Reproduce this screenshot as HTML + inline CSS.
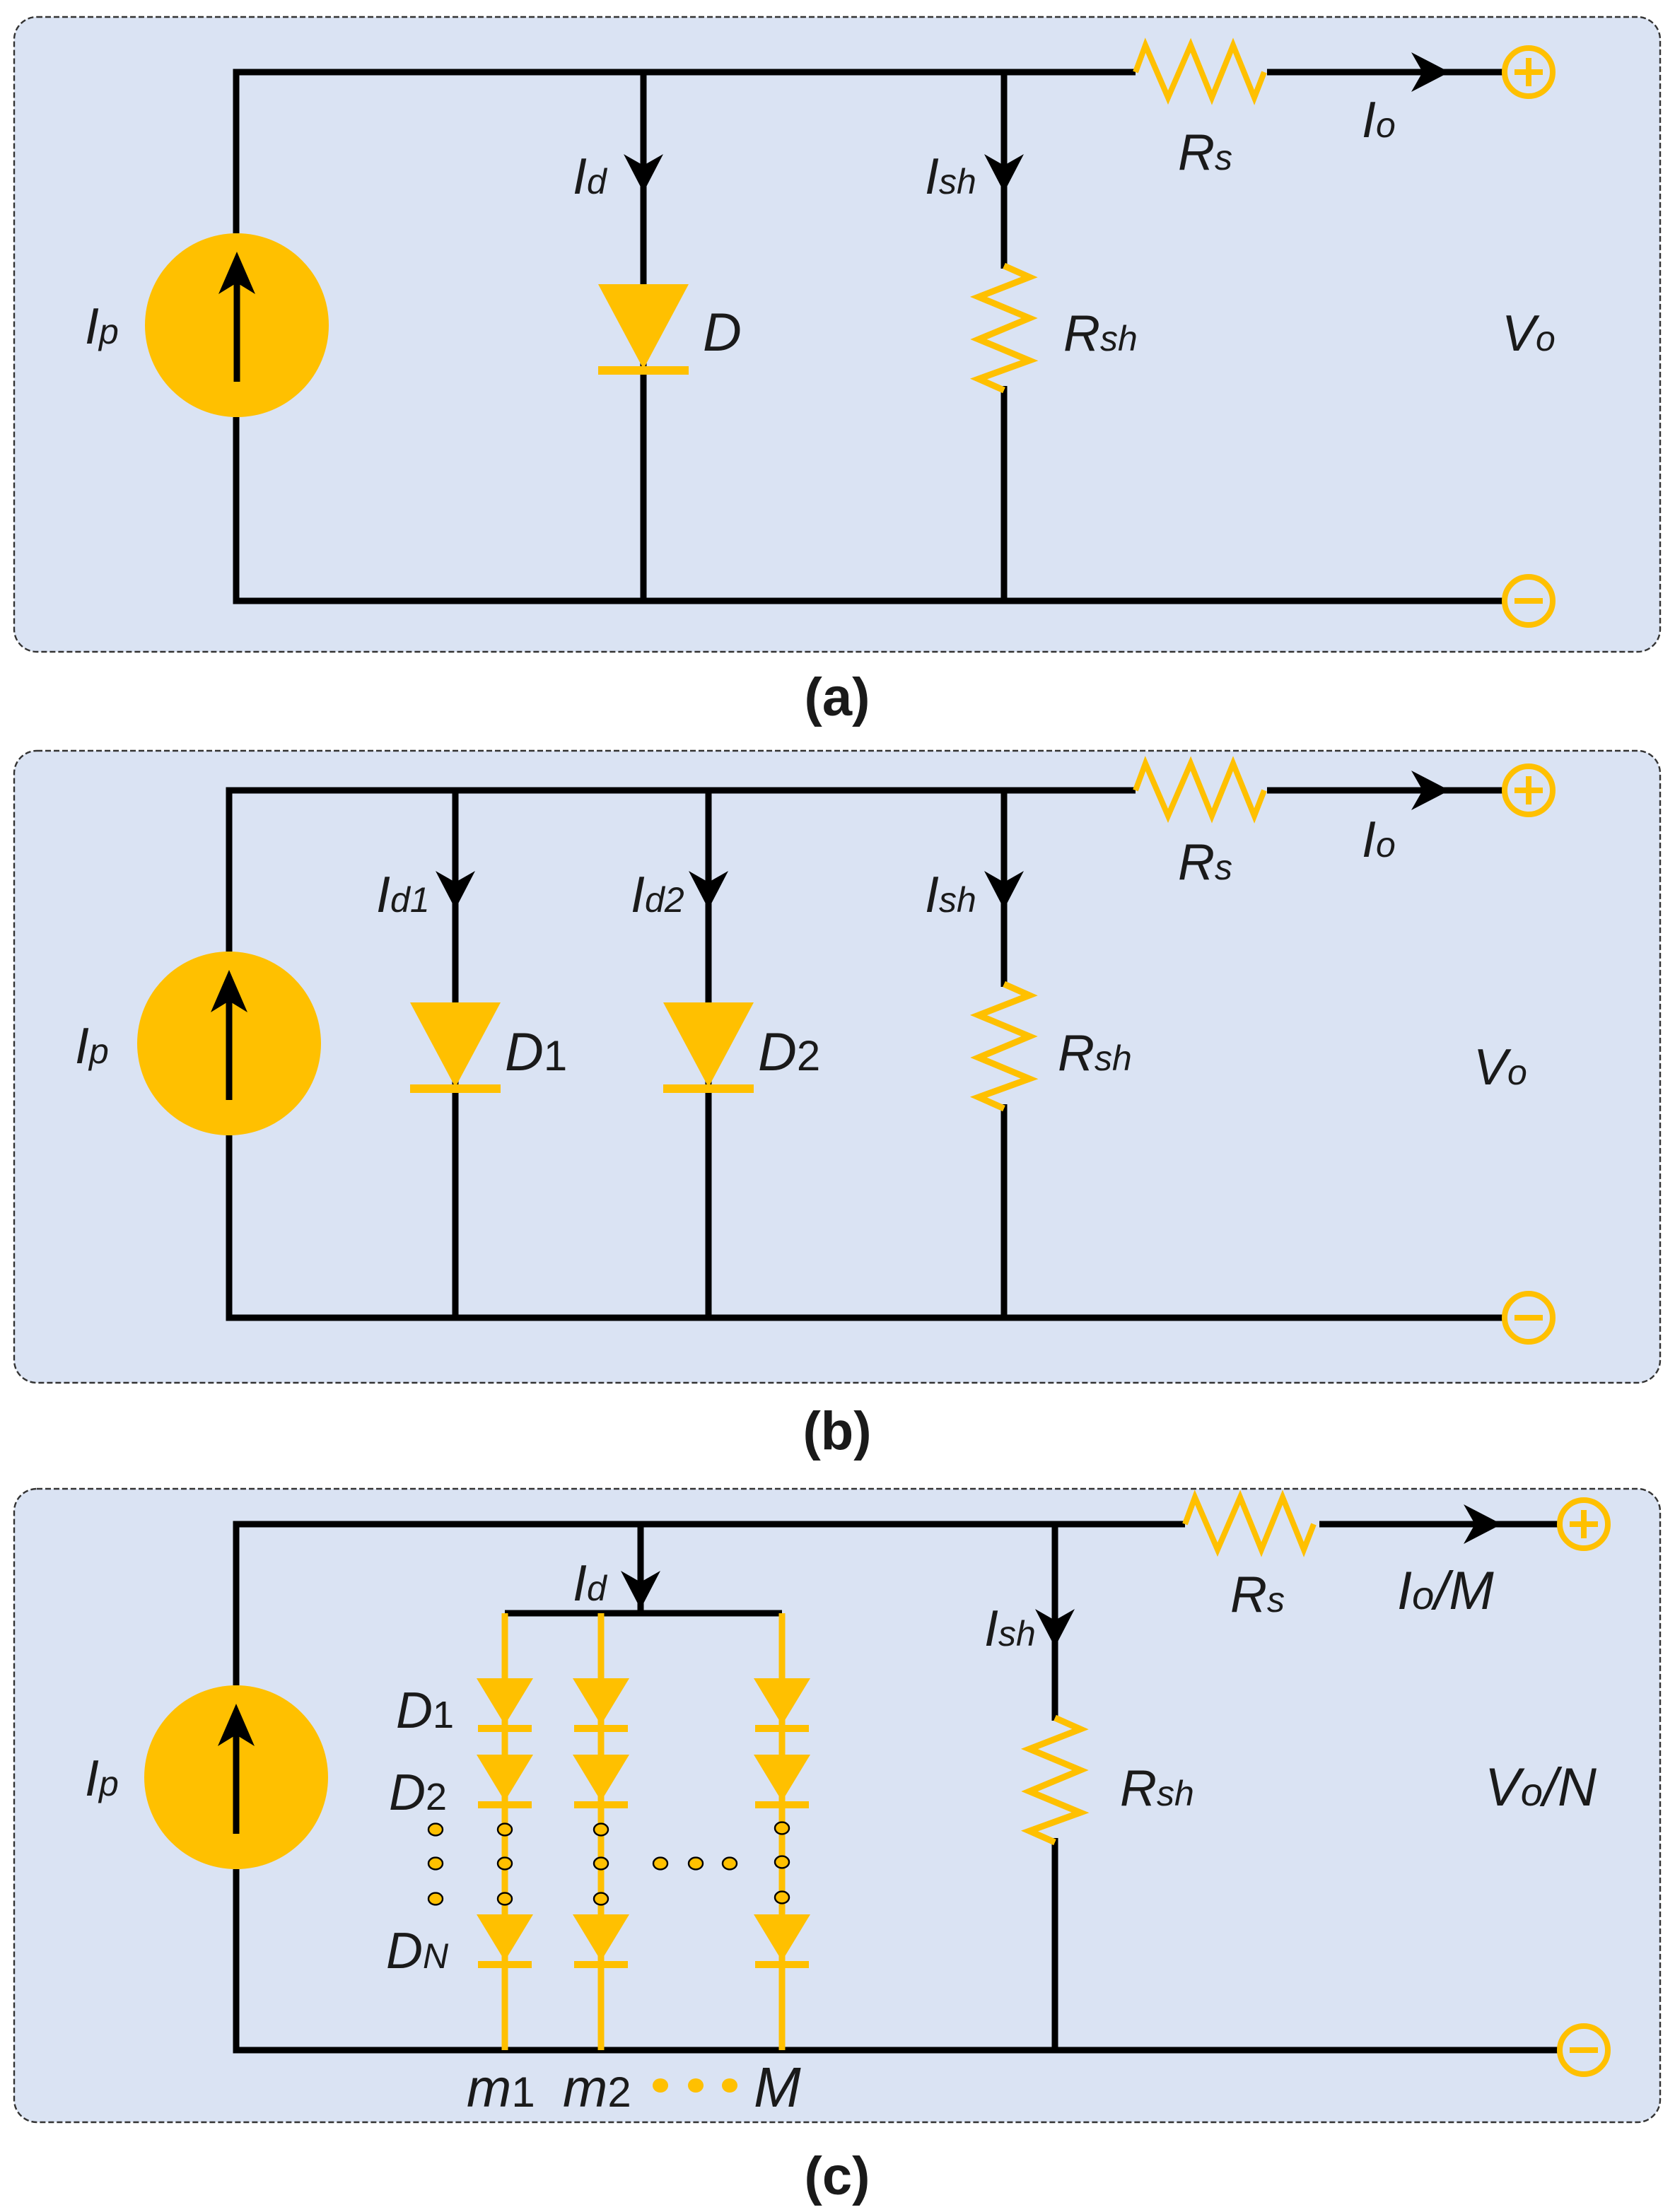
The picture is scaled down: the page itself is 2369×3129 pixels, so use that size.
<!DOCTYPE html>
<html><head><meta charset="utf-8"><style>
html,body{margin:0;padding:0;background:#fff;}
svg{display:block;}
text{font-family:"Liberation Sans",sans-serif;font-style:italic;fill:#1a1a1a;}
.cap{font-style:normal;font-weight:bold;}
</style></head><body>
<svg width="2369" height="3129" viewBox="0 0 1184.5 1564.5" xmlns="http://www.w3.org/2000/svg">
<defs>
<path id="ad" d="M0,0 L-14,-27 L0,-19 L14,-27 Z" fill="#000"/>
<path id="ar" d="M0,0 L-27,-14 L-19,0 L-27,14 Z" fill="#000"/>
<path id="au" d="M0,0 L-13,30 L0,22 L13,30 Z" fill="#000"/>
<g id="plus"><circle r="17" fill="none" stroke="#ffc000" stroke-width="4"/><path d="M-10,0 H10 M0,-10 V10" stroke="#ffc000" stroke-width="4"/></g>
<g id="minus"><circle r="17" fill="none" stroke="#ffc000" stroke-width="4"/><path d="M-10,0 H10" stroke="#ffc000" stroke-width="4"/></g>
<g id="src"><circle r="65" fill="#ffc000"/><line x1="0" y1="40" x2="0" y2="-40" stroke="#000" stroke-width="4.5"/><use href="#au" y="-52"/></g>
<polyline id="rs" points="0,0 7,-19 23,18 39,-19 54,18 69,-19 84,18 91,0" fill="none" stroke="#ffc000" stroke-width="4"/>
<polyline id="rsh" points="0,0 18,8 -18,22 18,37 -18,52 18,67 -18,80 0,88" fill="none" stroke="#ffc000" stroke-width="4.5"/>
<g id="dio"><path d="M-32,0 H32 L0,60 Z" fill="#ffc000"/><rect x="-32" y="58" width="64" height="6" fill="#ffc000"/></g>
<g id="sd"><path d="M-20,0 H20 L0,33 Z" fill="#ffc000"/><rect x="-19" y="33" width="38" height="5" fill="#ffc000"/></g>
<ellipse id="dot" rx="5" ry="4.2" fill="#ffc000" stroke="#000" stroke-width="1.2"/>
<ellipse id="gdot" rx="5.5" ry="5" fill="#ffc000"/>
</defs>

<!-- Panel a -->
<rect x="10" y="12" width="1164" height="449" rx="16" fill="#dae3f3" stroke="#333" stroke-width="1.2" stroke-dasharray="4,2"/>
<g stroke="#000" stroke-width="4.5" fill="none">
<path d="M167,165 V51 H803 M896,51 H1064"/>
<path d="M167,295 V425 H1064"/>
<path d="M455,51 V425"/>
<path d="M710,51 V190 M710,273 V425"/>
</g>
<use href="#src" x="167.5" y="230"/>
<use href="#rs" x="803" y="51"/>
<use href="#rsh" x="710" y="188"/>
<use href="#dio" x="455" y="201"/>
<use href="#ad" x="455" y="136"/>
<use href="#ad" x="710" y="136"/>
<use href="#ar" x="1025" y="51"/>
<use href="#plus" x="1081" y="51"/>
<use href="#minus" x="1081" y="425"/>
<text x="60" y="243" font-size="36">I<tspan font-size="25">p</tspan></text>
<text x="405" y="137" font-size="36">I<tspan font-size="25">d</tspan></text>
<text x="497" y="248" font-size="38">D</text>
<text x="654" y="137" font-size="36">I<tspan font-size="25">sh</tspan></text>
<text x="752" y="248" font-size="36">R<tspan font-size="25">sh</tspan></text>
<text x="833" y="120" font-size="36">R<tspan font-size="25">s</tspan></text>
<text x="963" y="97" font-size="36">I<tspan font-size="25">o</tspan></text>
<text x="1062" y="248" font-size="36">V<tspan font-size="25">o</tspan></text>
<text class="cap" x="592" y="506" font-size="38" text-anchor="middle">(a)</text>

<!-- Panel b -->
<rect x="10" y="531" width="1164" height="447" rx="16" fill="#dae3f3" stroke="#333" stroke-width="1.2" stroke-dasharray="4,2"/>
<g stroke="#000" stroke-width="4.5" fill="none">
<path d="M162,673 V559 H803 M896,559 H1064"/>
<path d="M162,803 V932 H1064"/>
<path d="M322,559 V932 M501,559 V932"/>
<path d="M710,559 V698 M710,781 V932"/>
</g>
<use href="#src" x="162" y="738"/>
<use href="#rs" x="803" y="559"/>
<use href="#rsh" x="710" y="696"/>
<use href="#dio" x="322" y="709"/>
<use href="#dio" x="501" y="709"/>
<use href="#ad" x="322" y="643"/>
<use href="#ad" x="501" y="643"/>
<use href="#ad" x="710" y="643"/>
<use href="#ar" x="1025" y="559"/>
<use href="#plus" x="1081" y="559"/>
<use href="#minus" x="1081" y="932"/>
<text x="53" y="752" font-size="36">I<tspan font-size="25">p</tspan></text>
<text x="266" y="645" font-size="36">I<tspan font-size="25">d1</tspan></text>
<text x="446" y="645" font-size="36">I<tspan font-size="25">d2</tspan></text>
<text x="357" y="757" font-size="38">D<tspan font-size="30" font-style="normal">1</tspan></text>
<text x="536" y="757" font-size="38">D<tspan font-size="30" font-style="normal">2</tspan></text>
<text x="654" y="645" font-size="36">I<tspan font-size="25">sh</tspan></text>
<text x="748" y="757" font-size="36">R<tspan font-size="25">sh</tspan></text>
<text x="833" y="622" font-size="36">R<tspan font-size="25">s</tspan></text>
<text x="963" y="606" font-size="36">I<tspan font-size="25">o</tspan></text>
<text x="1042" y="767" font-size="36">V<tspan font-size="25">o</tspan></text>
<text class="cap" x="592" y="1025" font-size="38" text-anchor="middle">(b)</text>

<!-- Panel c -->
<rect x="10" y="1053" width="1164" height="448" rx="16" fill="#dae3f3" stroke="#333" stroke-width="1.2" stroke-dasharray="4,2"/>
<g stroke="#000" stroke-width="4.5" fill="none">
<path d="M167,1192 V1078 H838 M933,1078 H1103"/>
<path d="M167,1322 V1450 H1103"/>
<path d="M453,1078 V1141 M357,1141 H553"/>
<path d="M746,1078 V1217 M746,1300 V1450"/>
</g>
<g stroke="#ffc000" stroke-width="4.5" fill="none">
<path d="M357,1141 V1450 M425,1141 V1450 M553,1141 V1450"/>
</g>
<use href="#src" x="167" y="1257"/>
<use href="#rs" x="838" y="1078"/>
<use href="#rsh" x="746" y="1215"/>
<use href="#ad" x="453" y="1138"/>
<use href="#ad" x="746" y="1165"/>
<use href="#ar" x="1062" y="1078"/>
<use href="#plus" x="1120" y="1078"/>
<use href="#minus" x="1120" y="1450"/>
<g>
<use href="#sd" x="357" y="1187"/><use href="#sd" x="357" y="1241"/><use href="#sd" x="357" y="1354"/>
<use href="#sd" x="425" y="1187"/><use href="#sd" x="425" y="1241"/><use href="#sd" x="425" y="1354"/>
<use href="#sd" x="553" y="1187"/><use href="#sd" x="553" y="1241"/><use href="#sd" x="553" y="1354"/>
</g>
<g>
<use href="#dot" x="308" y="1294"/><use href="#dot" x="308" y="1318"/><use href="#dot" x="308" y="1343"/>
<use href="#dot" x="357" y="1294"/><use href="#dot" x="357" y="1318"/><use href="#dot" x="357" y="1343"/>
<use href="#dot" x="425" y="1294"/><use href="#dot" x="425" y="1318"/><use href="#dot" x="425" y="1343"/>
<use href="#dot" x="553" y="1293"/><use href="#dot" x="553" y="1317"/><use href="#dot" x="553" y="1342"/>
<use href="#dot" x="467" y="1318"/><use href="#dot" x="492" y="1318"/><use href="#dot" x="516" y="1318"/>
<use href="#gdot" x="467" y="1475"/><use href="#gdot" x="492" y="1475"/><use href="#gdot" x="516" y="1475"/>
</g>
<text x="60" y="1270" font-size="36">I<tspan font-size="25">p</tspan></text>
<text x="405" y="1132" font-size="36">I<tspan font-size="25">d</tspan></text>
<text x="280" y="1222" font-size="36">D<tspan font-size="27" font-style="normal">1</tspan></text>
<text x="275" y="1280" font-size="36">D<tspan font-size="27" font-style="normal">2</tspan></text>
<text x="273" y="1392" font-size="36">D<tspan font-size="25">N</tspan></text>
<text x="696" y="1164" font-size="36">I<tspan font-size="25">sh</tspan></text>
<text x="792" y="1277" font-size="36">R<tspan font-size="25">sh</tspan></text>
<text x="870" y="1140" font-size="36">R<tspan font-size="25">s</tspan></text>
<text x="988" y="1138" font-size="38">I<tspan font-size="28">o</tspan>/M</text>
<text x="1050" y="1277" font-size="38">V<tspan font-size="28">o</tspan>/N</text>
<text x="330" y="1490" font-size="38">m<tspan font-size="30" font-style="normal">1</tspan></text>
<text x="398" y="1490" font-size="38">m<tspan font-size="30" font-style="normal">2</tspan></text>
<text x="533" y="1490" font-size="40">M</text>
<text class="cap" x="592" y="1552" font-size="38" text-anchor="middle">(c)</text>
</svg>
</body></html>
